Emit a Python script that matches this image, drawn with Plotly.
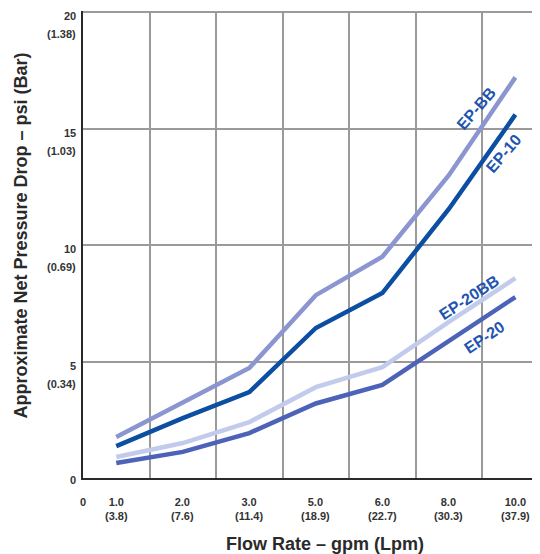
import plotly.graph_objects as go

categories = ["1.0", "2.0", "3.0", "5.0", "6.0", "8.0", "10.0"]
lpm_labels = ["(3.8)", "(7.6)", "(11.4)", "(18.9)", "(22.7)", "(30.3)", "(37.9)"]
y_ticks = [0, 5, 10, 15, 20]
y_bar_labels = ["", "(0.34)", "(0.69)", "(1.03)", "(1.38)"]

ep_bb = [1.76, 3.26, 4.72, 7.85, 9.5, 13.0, 17.2]
ep_10 = [1.37, 2.57, 3.69, 6.44, 7.94, 11.55, 15.6]
ep_20bb = [0.9, 1.5, 2.4, 3.9, 4.76, 6.7, 8.58]
ep_20 = [0.64, 1.12, 1.93, 3.2, 4.0, 5.9, 7.77]

series = [
    ("EP-BB", ep_bb, "#8b95d0"),
    ("EP-10", ep_10, "#0b4ea2"),
    ("EP-20BB", ep_20bb, "#c3cbec"),
    ("EP-20", ep_20, "#4d63b9"),
]

xpos = [i + 0.5 for i in range(len(categories))]

fig = go.Figure()
for name, vals, col in series:
    fig.add_trace(go.Scatter(x=xpos, y=vals, mode="lines", name=name,
                             line=dict(color=col, width=4.5), showlegend=False))

tick_font = dict(family="Liberation Sans, Arial", size=11, color="#333333")
ann = []
# y tick labels
for v, b in zip(y_ticks, y_bar_labels):
    ann.append(dict(x=-0.012, y=v, xref="paper", yref="y", text="<b>%d</b>" % v,
                    showarrow=False, xanchor="right", yanchor="middle",
                    yshift=(-4 if v > 0 else -2), font=tick_font))
    if b:
        ann.append(dict(x=-0.012, y=v, xref="paper", yref="y", text="<b>%s</b>" % b,
                        showarrow=False, xanchor="right", yanchor="middle", yshift=-22,
                        font=tick_font))
# x tick labels
ann.append(dict(x=0, y=0, xref="x", yref="y", text="<b>0</b>", showarrow=False,
                xanchor="center", yanchor="top", yshift=-16, font=tick_font))
for xp, c, l in zip(xpos, categories, lpm_labels):
    ann.append(dict(x=xp, y=0, xref="x", yref="y", text="<b>%s</b><br><b>%s</b>" % (c, l),
                    showarrow=False, xanchor="center", yanchor="top", yshift=-16,
                    font=tick_font))

# axis titles
ann.append(dict(x=(325 - 83) / 457, y=(478 - 544) / 466, xref="paper", yref="paper",
                text="<b>Flow Rate – gpm (Lpm)</b>", showarrow=False,
                xanchor="center", yanchor="middle",
                font=dict(family="Liberation Sans, Arial", size=18, color="#2a2a2a")))
ann.append(dict(x=(21 - 83) / 457, y=(478 - 236) / 466, xref="paper", yref="paper",
                text="<b>Approximate Net Pressure Drop – psi (Bar)</b>", showarrow=False,
                textangle=-90, xanchor="center", yanchor="middle",
                font=dict(family="Liberation Sans, Arial", size=18, color="#2a2a2a")))

lab_font = dict(family="Liberation Sans, Arial", size=16, color="#1f55b0")
labels = [
    ("EP-BB", 5.91, 15.88, -49),
    ("EP-10", 6.32, 13.95, -49),
    ("EP-20BB", 5.8, 7.77, -33),
    ("EP-20", 6.03, 6.05, -34),
]
for t, xl, yl, ang in labels:
    ann.append(dict(x=xl, y=yl, xref="x", yref="y", text="<b>%s</b>" % t,
                    showarrow=False, textangle=ang, font=lab_font,
                    xanchor="center", yanchor="middle"))

fig.update_layout(
    width=532, height=546,
    margin=dict(l=75, r=0, t=3, b=76, autoexpand=False),
    paper_bgcolor="white", plot_bgcolor="white",
    annotations=ann,
    xaxis=dict(range=[0, 6.87], tickvals=[1, 2, 3, 4, 5, 6, 7], showticklabels=False,
               showgrid=True, gridcolor="#9a9a9a", gridwidth=1.5, zeroline=False,
               showline=True, linecolor="#2a2a2a", linewidth=2),
    yaxis=dict(range=[0, 20.05], tickvals=[5, 10, 15, 20], showticklabels=False,
               showgrid=True, gridcolor="#9a9a9a", gridwidth=1.5, zeroline=False,
               showline=True, linecolor="#2a2a2a", linewidth=2),
)
fig.write_html("out.html")
